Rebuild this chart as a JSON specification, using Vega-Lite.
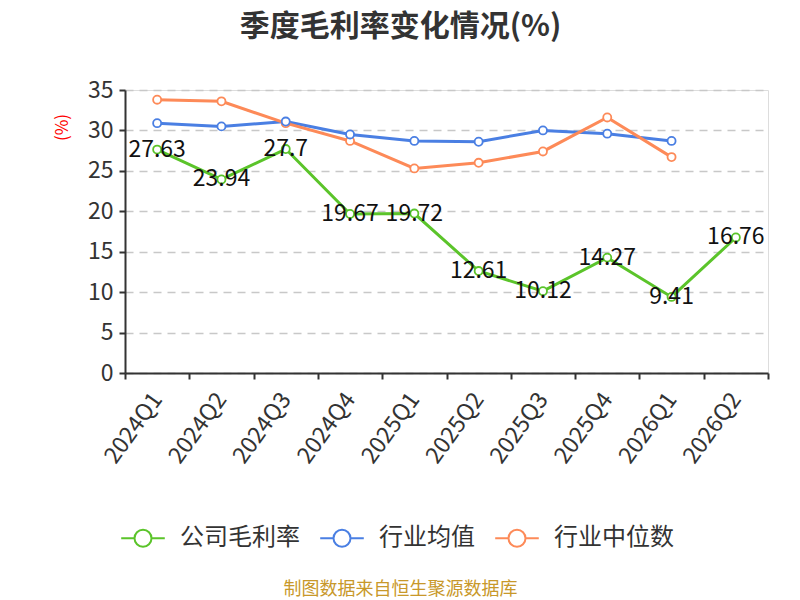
{
  "$schema": "https://vega.github.io/schema/vega-lite/v6.json",
  "width": 643,
  "height": 283,
  "autosize": {"type": "none"},
  "padding": {"left": 125, "top": 90, "right": 32, "bottom": 227},
  "background": "white",
  "title": {
    "text": "季度毛利率变化情况(%)",
    "fontSize": 30,
    "fontWeight": "bold",
    "color": "#333333",
    "font": "Noto Sans CJK SC",
    "anchor": "middle",
    "dx": -46,
    "offset": 37
  },
  "data": {
    "values": [
      {"quarter": "2024Q1", "series": "公司毛利率", "value": 27.63},
      {"quarter": "2024Q2", "series": "公司毛利率", "value": 23.94},
      {"quarter": "2024Q3", "series": "公司毛利率", "value": 27.7},
      {"quarter": "2024Q4", "series": "公司毛利率", "value": 19.67},
      {"quarter": "2025Q1", "series": "公司毛利率", "value": 19.72},
      {"quarter": "2025Q2", "series": "公司毛利率", "value": 12.61},
      {"quarter": "2025Q3", "series": "公司毛利率", "value": 10.12},
      {"quarter": "2025Q4", "series": "公司毛利率", "value": 14.27},
      {"quarter": "2026Q1", "series": "公司毛利率", "value": 9.41},
      {"quarter": "2026Q2", "series": "公司毛利率", "value": 16.76},
      {"quarter": "2024Q1", "series": "行业均值", "value": 30.9},
      {"quarter": "2024Q2", "series": "行业均值", "value": 30.5},
      {"quarter": "2024Q3", "series": "行业均值", "value": 31.1},
      {"quarter": "2024Q4", "series": "行业均值", "value": 29.5},
      {"quarter": "2025Q1", "series": "行业均值", "value": 28.7},
      {"quarter": "2025Q2", "series": "行业均值", "value": 28.6},
      {"quarter": "2025Q3", "series": "行业均值", "value": 30.0},
      {"quarter": "2025Q4", "series": "行业均值", "value": 29.6},
      {"quarter": "2026Q1", "series": "行业均值", "value": 28.7},
      {"quarter": "2024Q1", "series": "行业中位数", "value": 33.8},
      {"quarter": "2024Q2", "series": "行业中位数", "value": 33.6},
      {"quarter": "2024Q3", "series": "行业中位数", "value": 30.9},
      {"quarter": "2024Q4", "series": "行业中位数", "value": 28.7},
      {"quarter": "2025Q1", "series": "行业中位数", "value": 25.3},
      {"quarter": "2025Q2", "series": "行业中位数", "value": 26.0},
      {"quarter": "2025Q3", "series": "行业中位数", "value": 27.4},
      {"quarter": "2025Q4", "series": "行业中位数", "value": 31.6},
      {"quarter": "2026Q1", "series": "行业中位数", "value": 26.7}
    ]
  },
  "encoding": {
    "x": {
      "field": "quarter",
      "type": "nominal",
      "sort": null,
      "scale": {"type": "band", "paddingInner": 0, "paddingOuter": 0},
      "axis": {
        "title": "制图数据来自恒生聚源数据库",
        "titleColor": "#c8982a",
        "titleFontSize": 18,
        "titleFontWeight": "normal",
        "titleFont": "Noto Sans CJK SC",
        "titleX": 275,
        "titleY": 216,
        "titleAlign": "center",
        "titleBaseline": "middle",
        "tickBand": "extent",
        "labelAngle": -54,
        "labelAlign": "right",
        "labelBaseline": "middle",
        "labelFontSize": 23,
        "labelColor": "#333333",
        "labelFont": "Noto Sans CJK SC",
        "labelPadding": 16,
        "domainColor": "#333333",
        "domainWidth": 2,
        "tickColor": "#333333",
        "tickWidth": 2,
        "tickSize": 6,
        "grid": false
      }
    },
    "y": {
      "field": "value",
      "type": "quantitative",
      "scale": {"domain": [0, 35]},
      "axis": {
        "values": [0, 5, 10, 15, 20, 25, 30, 35],
        "title": "(%)",
        "titleColor": "#ff0000",
        "titleFontSize": 17,
        "titleFontWeight": "normal",
        "titleFont": "Noto Sans CJK SC",
        "titleAngle": -90,
        "titleX": -63,
        "titleY": 37,
        "titleAlign": "center",
        "titleBaseline": "middle",
        "labelFontSize": 23,
        "labelColor": "#333333",
        "labelFont": "Noto Sans CJK SC",
        "labelPadding": 6,
        "domainColor": "#333333",
        "domainWidth": 2,
        "tickColor": "#333333",
        "tickWidth": 2,
        "tickSize": 6,
        "grid": true,
        "gridColor": "#c8c8c8",
        "gridDash": [8, 6],
        "gridWidth": 1.5
      }
    }
  },
  "layer": [
    {
      "mark": {
        "type": "line",
        "strokeWidth": 3,
        "point": {"filled": false, "fill": "white", "size": 65, "strokeWidth": 1.8}
      },
      "encoding": {
        "color": {
          "field": "series",
          "type": "nominal",
          "scale": {
            "domain": ["公司毛利率", "行业均值", "行业中位数"],
            "range": ["#5bc42a", "#4a7fe3", "#fd8a58"]
          },
          "legend": {
            "title": null,
            "orient": "none",
            "direction": "horizontal",
            "legendX": -5,
            "legendY": 425,
            "symbolType": "M-1,0H-0.39M0.39,0H1M-0.39,0A0.39,0.39 0 1,0 0.39,0A0.39,0.39 0 1,0 -0.39,0",
            "symbolSize": 1900,
            "symbolStrokeWidth": 2,
            "symbolFillColor": "white",
            "labelFontSize": 24,
            "labelColor": "#333333",
            "labelFont": "Noto Sans CJK SC",
            "labelOffset": 14,
            "columnPadding": 16
          }
        },
        "order": {"field": "series", "sort": "ascending"}
      }
    },
    {
      "transform": [{"filter": "datum.series === '公司毛利率'"}],
      "mark": {
        "type": "text",
        "fontSize": 23,
        "color": "#111111",
        "font": "Noto Sans CJK SC",
        "align": "center",
        "baseline": "middle"
      },
      "encoding": {"text": {"field": "value", "type": "quantitative"}}
    }
  ]
}
